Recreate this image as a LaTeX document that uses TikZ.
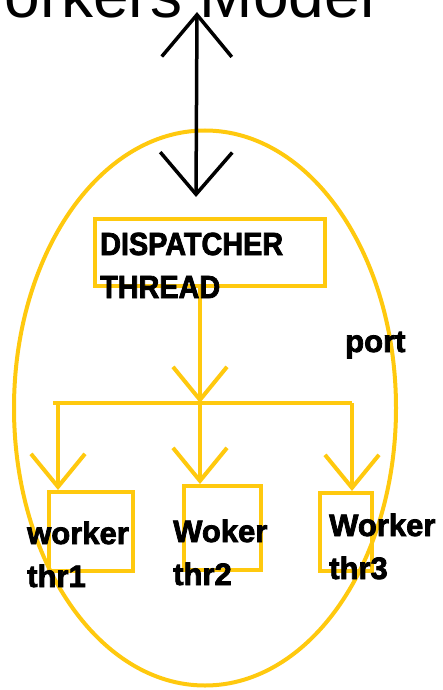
\documentclass[tikz,border=0pt]{standalone}
\usepackage{fontspec}
\usepackage{tikz}
\usetikzlibrary{arrows.meta}
\usetikzlibrary{shapes.geometric}

\setmainfont{Liberation Sans}
\newfontfamily\labelfont[FakeBold=2.5]{Liberation Sans Bold}
\newfontfamily\dispfont[FakeBold=2.5,FakeStretch=0.9]{Liberation Sans Bold}
\definecolor{gold}{RGB}{255,201,14}

\begin{document}
\begin{tikzpicture}[x=1pt, y=-1pt]

\def\lw{4pt}    % width of the yellow strokes
\def\fy{403}    % height of the fork bar
\def\hl{33pt}   % length of the arrow heads
\def\hw{54pt}   % spread of the arrow heads

\tikzset{thrbox/.style = {draw=gold, line width=\lw, inner sep=0pt},
         flow/.style   = {draw=gold, line width=\lw,
                          -{Straight Barb[length=\hl, width=\hw]}},
         thrtext/.style = {anchor=base west, inner sep=0pt, align=left,
                           font=\labelfont\fontsize{31}{43}\selectfont}
        }

\useasboundingbox (0,0) rectangle (442,690);
\clip (0,0) rectangle (442,690);

% title
\node[anchor=base west, inner sep=0pt, font=\fontsize{64}{70}\selectfont]
    (title) at (-55,18) {Workers Model};

% port
\node[draw=gold, line width=\lw, ellipse, inner sep=0pt,
      minimum width=382pt, minimum height=555pt] (port) at (205,408) {};

% request in and out
\coordinate (outside) at (197,12);
\coordinate (inside)  at (196,197);
\draw[line width=3.5pt,
      {Straight Barb[length=42pt, width=70pt]}-{Straight Barb[length=42pt, width=72pt]}]
    (outside) -- (inside);

% dispatcher
\node[thrbox, minimum width=230pt, minimum height=67pt] (disp) at (210,252.5) {};

% fork
\coordinate (fork)  at (200,\fy);
\coordinate (barL)  at (53,\fy);
\coordinate (barR)  at (352,\fy);
\coordinate (drop1) at (58,\fy);
\draw[flow] (disp.south -| fork) -- (fork);
\draw[gold, line width=\lw] (barL) -- (barR);

% worker threads
\node[thrbox, minimum width=84pt, minimum height=79pt] (thr1) at (91,531.5) {};
\node[thrbox, minimum width=77pt, minimum height=84pt] (thr2) at (222.5,528) {};
\node[thrbox, minimum width=52pt, minimum height=78pt] (thr3) at (346,532) {};

\draw[flow] (drop1) -- (drop1 |- thr1.north);
\draw[flow] (fork)  -- (fork |- thr2.north);
\draw[flow] (barR)  -- (barR |- thr3.north);

% labels
\node[thrtext, font=\dispfont\fontsize{32}{43}\selectfont]
    (displab) at (100,298) {DISPATCHER\\THREAD};
\node[thrtext] (lab1) at (27,587)  {worker\\thr1};
\node[thrtext] (lab2) at (173,585) {Woker\\thr2};
\node[thrtext] (lab3) at (329,579) {Worker\\thr3};
\node[thrtext] (portlab) at (345,352) {port};

\end{tikzpicture}
\end{document}
